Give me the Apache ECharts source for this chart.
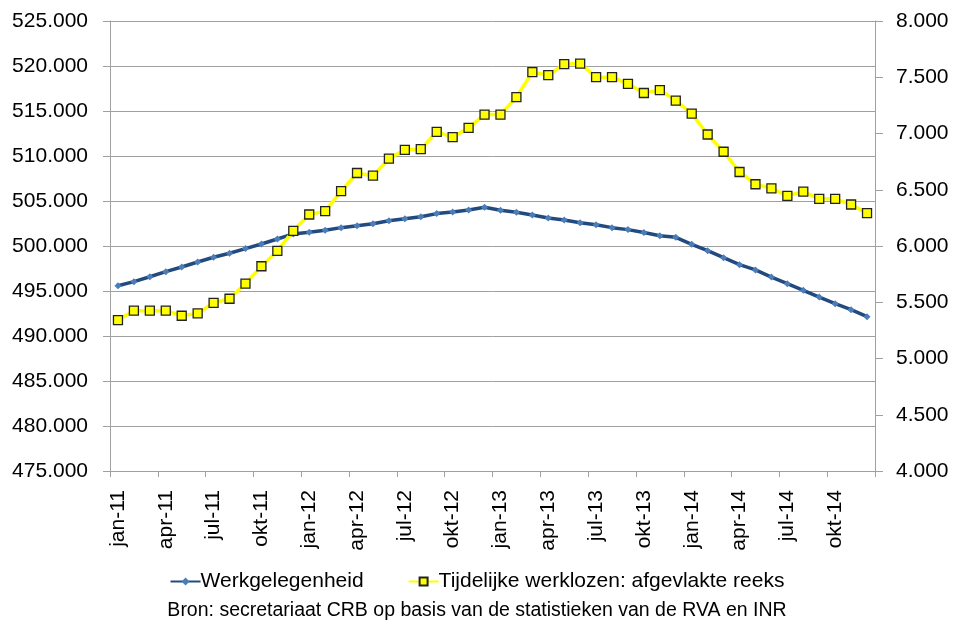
<!DOCTYPE html>
<html>
<head>
<meta charset="utf-8">
<script src="https://cdn.jsdelivr.net/npm/echarts@6/dist/echarts.min.js"></script>
<style>
  html, body { margin: 0; padding: 0; background: #fff; }
  #chart { width: 954px; height: 632px; }
</style>
</head>
<body>
<div id="chart"></div>
<script>
/* gegevens */
var months = [
  "jan-11", "feb-11", "mrt-11", "apr-11", "mei-11", "jun-11", "jul-11", "aug-11", "sep-11", "okt-11", "nov-11", "dec-11",
  "jan-12", "feb-12", "mrt-12", "apr-12", "mei-12", "jun-12", "jul-12", "aug-12", "sep-12", "okt-12", "nov-12", "dec-12",
  "jan-13", "feb-13", "mrt-13", "apr-13", "mei-13", "jun-13", "jul-13", "aug-13", "sep-13", "okt-13", "nov-13", "dec-13",
  "jan-14", "feb-14", "mrt-14", "apr-14", "mei-14", "jun-14", "jul-14", "aug-14", "sep-14", "okt-14", "nov-14", "dec-14"
];

var werkgelegenheid = [
  495590, 496040, 496580, 497150, 497670, 498220, 498750, 499190, 499710, 500220, 500780, 501340,
  501520, 501740, 502040, 502260, 502480, 502810, 503030, 503260, 503600, 503780, 504000, 504300,
  503970, 503740, 503440, 503110, 502890, 502590, 502370, 502040, 501820, 501490, 501140, 500960,
  500190, 499480, 498700, 497930, 497340, 496550, 495810, 495080, 494330, 493590, 492930, 492150
];

var tijdelijkeWerklozen = [
  5342, 5425, 5425, 5425, 5380, 5401, 5495, 5531, 5666, 5820, 5956, 6135,
  6280, 6310, 6487, 6649, 6625, 6776, 6855, 6861, 7015, 6967, 7050, 7168,
  7168, 7324, 7546, 7519, 7616, 7622, 7501, 7501, 7442, 7360, 7386, 7292,
  7177, 6991, 6838, 6658, 6549, 6513, 6445, 6484, 6419, 6419, 6369, 6292
];

var seriesNames = ["Werkgelegenheid", "Tijdelijke werklozen: afgevlakte reeks"];
var bronText = "Bron: secretariaat CRB op basis van de statistieken van de RVA en INR";

var FONT = "Liberation Sans, Arial, sans-serif";
var GRAY = "#a0a0a0";

function puntFormat(v) {
  return String(Math.round(v)).replace(/\B(?=(\d{3})+(?!\d))/g, ".");
}

var chart = echarts.init(document.getElementById("chart"));

chart.setOption({
  animation: false,
  textStyle: { fontFamily: FONT },
  grid: { left: 110, right: 79, top: 21, bottom: 161, containLabel: false },
  legend: {
    top: 566,
    left: "center",
    itemGap: 44,
    itemWidth: 30,
    itemHeight: 10,
    textStyle: { fontFamily: FONT, fontSize: 21, color: "#000", padding: [0, 0, 0, -5] },
    data: seriesNames
  },
  graphic: [{
    type: "text",
    left: "center",
    top: 601,
    style: { text: bronText, fontFamily: FONT, fontSize: 19.5, fill: "#000" }
  }],
  xAxis: {
    type: "category",
    data: months,
    boundaryGap: true,
    axisLine: { lineStyle: { color: GRAY, width: 1 } },
    axisTick: { show: true, interval: 2, length: 6, lineStyle: { color: GRAY } },
    axisLabel: {
      interval: 2,
      rotate: 90,
      margin: 19,
      fontSize: 21,
      color: "#000",
      fontFamily: FONT
    },
    splitLine: { show: false }
  },
  yAxis: [{
    type: "value",
    min: 475000,
    max: 525000,
    interval: 5000,
    axisLine: { show: true, lineStyle: { color: GRAY } },
    axisTick: { show: true, length: 7, lineStyle: { color: GRAY } },
    axisLabel: { formatter: puntFormat, fontSize: 21, color: "#000", margin: 22, fontFamily: FONT },
    splitLine: { show: true, lineStyle: { color: GRAY, width: 1 } }
  }, {
    type: "value",
    min: 4000,
    max: 8000,
    interval: 500,
    position: "right",
    axisLine: { show: true, lineStyle: { color: GRAY } },
    axisTick: { show: true, length: 8, lineStyle: { color: GRAY } },
    axisLabel: { formatter: puntFormat, fontSize: 21, color: "#000", margin: 21, fontFamily: FONT },
    splitLine: { show: false }
  }],
  series: [{
    name: seriesNames[0],
    type: "line",
    yAxisIndex: 0,
    data: werkgelegenheid,
    symbol: "diamond",
    symbolSize: 7,
    lineStyle: { color: "#234a7e", width: 3.5 },
    itemStyle: { color: "#4a7ebb", borderColor: "#4a7ebb", borderWidth: 0 },
    z: 2
  }, {
    name: seriesNames[1],
    type: "line",
    yAxisIndex: 1,
    data: tijdelijkeWerklozen,
    symbol: "rect",
    symbolSize: 9,
    lineStyle: { color: "#ffff00", width: 3.5 },
    itemStyle: { color: "#ffff00", borderColor: "#222", borderWidth: 1.3 },
    z: 3
  }]
});
</script>
</body>
</html>
